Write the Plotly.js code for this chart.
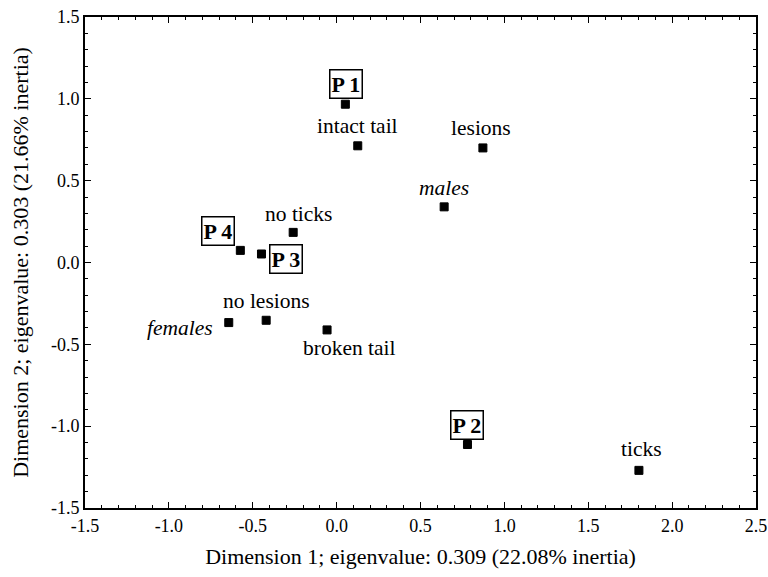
<!DOCTYPE html>
<html>
<head>
<meta charset="utf-8">
<script src="https://cdn.plot.ly/plotly-3.0.1.min.js"></script>
<style>html,body{margin:0;padding:0;background:#fff;}#chart{width:768px;height:577px;}</style>
</head>
<body>
<div id="chart"></div>
<script>
// Data
const labels = ["P 1", "intact tail", "no ticks", "P 4", "P 3", "lesions", "males", "females", "no lesions", "broken tail", "P 2", "ticks"];
const dim1   = [0.052, 0.126, -0.259, -0.574, -0.448, 0.872, 0.641, -0.643, -0.420, -0.057, 0.780, 1.802];
const dim2   = [0.967, 0.713, 0.184, 0.074, 0.052, 0.700, 0.340, -0.367, -0.353, -0.412, -1.112, -1.270];
const labelKind = ["box", "plain", "plain", "box", "box", "plain", "italic", "italic", "plain", "plain", "box", "plain"];
const xTickVals = [-1.5, -1.0, -0.5, 0.0, 0.5, 1.0, 1.5, 2.0, 2.5];
const xTickText = ["-1.5", "-1.0", "-0.5", "0.0", "0.5", "1.0", "1.5", "2.0", "2.5"];
const yTickVals = [-1.5, -1.0, -0.5, 0.0, 0.5, 1.0, 1.5];
const yTickText = ["-1.5", "-1.0", "-0.5", "0.0", "0.5", "1.0", "1.5"];

// Label placement (pixels) relative to each point
const shifts = {
  "P 1": [1, 20], "intact tail": [0, 20], "no ticks": [5, 18], "P 4": [-22, 19],
  "P 3": [25, -5], "lesions": [-2, 20], "males": [0, 19], "females": [-49, -5],
  "no lesions": [0, 19], "broken tail": [22, -18], "P 2": [0, 20], "ticks": [3, 21]
};

const FONT = "Liberation Serif";

const annotations = labels.map((t, i) => {
  const kind = labelKind[i];
  const s = shifts[t];
  const a = {
    x: dim1[i], y: dim2[i], xref: "x", yref: "y",
    text: kind === "box" ? "<b>" + t + "</b>" : (kind === "italic" ? "<i>" + t + "</i>" : t),
    showarrow: false, xshift: s[0], yshift: s[1],
    font: {family: FONT, size: kind === "box" ? 22 : 21.5, color: "#000"}
  };
  if (kind === "box") {
    a.bordercolor = "#000"; a.borderwidth = 1.5; a.borderpad = 1; a.bgcolor = "#fff";
  }
  return a;
});

const trace = {
  x: dim1, y: dim2, mode: "markers", type: "scatter",
  marker: {symbol: "square", size: 8, color: "#000", line: {color: "#000", width: 1}},
  hoverinfo: "skip", showlegend: false
};

function axisCommon() {
  return {
    showgrid: false, zeroline: false, showline: true, linecolor: "#000", linewidth: 2,
    mirror: "allticks", ticks: "inside", ticklen: 6, tickwidth: 1, tickcolor: "#000",
    tickfont: {family: FONT, size: 18, color: "#000"},
    minor: {ticks: "inside", dtick: 0.1, ticklen: 3, tickwidth: 1, tickcolor: "#000"}
  };
}

const layout = {
  width: 768, height: 577,
  margin: {l: 85, r: 12, t: 17, b: 69},
  paper_bgcolor: "#fff", plot_bgcolor: "#fff",
  font: {family: FONT, color: "#000", size: 18},
  xaxis: Object.assign(axisCommon(), {
    range: [-1.5, 2.5], tickmode: "array", tickvals: xTickVals, ticktext: xTickText,
    title: {text: "Dimension 1; eigenvalue: 0.309 (22.08% inertia)", font: {family: FONT, size: 22, color: "#000"}, standoff: 14}
  }),
  yaxis: Object.assign(axisCommon(), {
    range: [-1.5, 1.5], tickmode: "array", tickvals: yTickVals, ticktext: yTickText,
    title: {text: "Dimension 2; eigenvalue: 0.303 (21.66% inertia)", font: {family: FONT, size: 22, color: "#000"}, standoff: 16}
  }),
  annotations: annotations
};

Plotly.newPlot("chart", [trace], layout, {displayModeBar: false, staticPlot: true});
</script>
</body>
</html>
